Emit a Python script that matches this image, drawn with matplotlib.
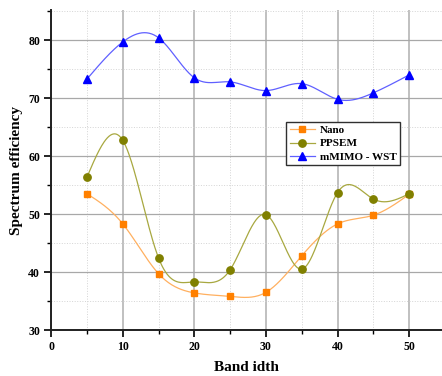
import numpy as np
import matplotlib
matplotlib.use("Agg")
import matplotlib.pyplot as plt
from matplotlib.ticker import MultipleLocator

bandwidth = [5, 10, 15, 20, 25, 30, 35, 40, 45, 50]
nano = [53.5, 48.3, 39.7, 36.4, 35.8, 36.5, 42.8, 48.3, 49.8, 53.4]
ppsem = [56.4, 62.7, 42.4, 38.3, 40.4, 49.9, 40.5, 53.7, 52.6, 53.5]
mmimo = [73.3, 79.7, 80.4, 73.5, 72.8, 71.3, 72.5, 69.8, 70.9, 74.0]
labels = ["Nano", "PPSEM", "mMIMO - WST"]


def natural_spline(x, y, n=400):
    x = np.asarray(x, float)
    y = np.asarray(y, float)
    k = len(x)
    h = np.diff(x)
    A = np.zeros((k, k))
    b = np.zeros(k)
    A[0, 0] = A[-1, -1] = 1
    for i in range(1, k - 1):
        A[i, i - 1] = h[i - 1]
        A[i, i] = 2 * (h[i - 1] + h[i])
        A[i, i + 1] = h[i]
        b[i] = 3 * ((y[i + 1] - y[i]) / h[i] - (y[i] - y[i - 1]) / h[i - 1])
    c = np.linalg.solve(A, b)
    bb = (y[1:] - y[:-1]) / h - h * (2 * c[:-1] + c[1:]) / 3
    d = (c[1:] - c[:-1]) / (3 * h)
    xs = np.linspace(x[0], x[-1], n)
    idx = np.clip(np.searchsorted(x, xs) - 1, 0, k - 2)
    dx = xs - x[idx]
    ys = y[idx] + bb[idx] * dx + c[idx] * dx ** 2 + d[idx] * dx ** 3
    return xs, ys


plt.rcParams['font.family'] = ['Liberation Serif', 'DejaVu Serif']
plt.rcParams['font.weight'] = 'bold'

fig = plt.figure(figsize=(4.42, 3.76), dpi=100)
ax = fig.add_axes([0.116, 0.1223, 0.884, 0.8511])

series = [
    (nano, 's', 5.0, '#FF8000', '#FFB060'),
    (ppsem, 'o', 5.3, '#808000', '#A8A840'),
    (mmimo, '^', 6.0, '#0000FF', '#6060FF'),
]
for (vals, mk, ms, mc, lc), lab in zip(series, labels):
    xs, ys = natural_spline(bandwidth, vals)
    ax.plot(xs, ys, color=lc, lw=0.9, zorder=3)
    ax.plot(bandwidth, vals, linestyle='none', marker=mk, color=mc,
            markersize=ms, zorder=4)
    ax.plot([], [], color=lc, lw=0.9, marker=mk, markerfacecolor=mc,
            markeredgecolor=mc, markersize=ms, label=lab)

ax.set_xlim(0, 54.6)
ax.set_ylim(30, 85.2)
ax.xaxis.set_major_locator(MultipleLocator(10))
ax.xaxis.set_minor_locator(MultipleLocator(5))
ax.yaxis.set_major_locator(MultipleLocator(10))
ax.yaxis.set_minor_locator(MultipleLocator(5))

ax.grid(which='major', axis='y', color='#a8a8a8', lw=0.9)
ax.grid(which='major', axis='x', color='#c0c0c0', lw=1.4)
ax.grid(which='minor', color='#d4d4d4', lw=0.7, linestyle=':')
ax.set_axisbelow(True)

for s in ['top', 'right']:
    ax.spines[s].set_visible(False)
for s in ['left', 'bottom']:
    ax.spines[s].set_linewidth(1.4)
    ax.spines[s].set_color('#202020')

ax.tick_params(which='major', direction='out', length=5, width=1.2,
               labelsize=8.5, pad=3)
ax.tick_params(which='minor', direction='out', length=3, width=1)
for t in ax.get_xticklabels() + ax.get_yticklabels():
    t.set_fontweight('bold')

ax.set_xlabel('Band idth', fontsize=11, fontweight='bold', labelpad=6)
ax.set_ylabel('Spectrum efficiency', fontsize=11, fontweight='bold',
              labelpad=4)

leg = ax.legend(loc='upper left', bbox_to_anchor=(0.6, 0.651), fontsize=8,
                frameon=True, fancybox=False, edgecolor='#303030',
                framealpha=1, borderpad=0.35, handlelength=2.3,
                labelspacing=0.3, handletextpad=0.4, borderaxespad=0)
leg.get_frame().set_linewidth(1.0)
for t in leg.get_texts():
    t.set_fontweight('bold')

fig.savefig('out.png', dpi=100)
